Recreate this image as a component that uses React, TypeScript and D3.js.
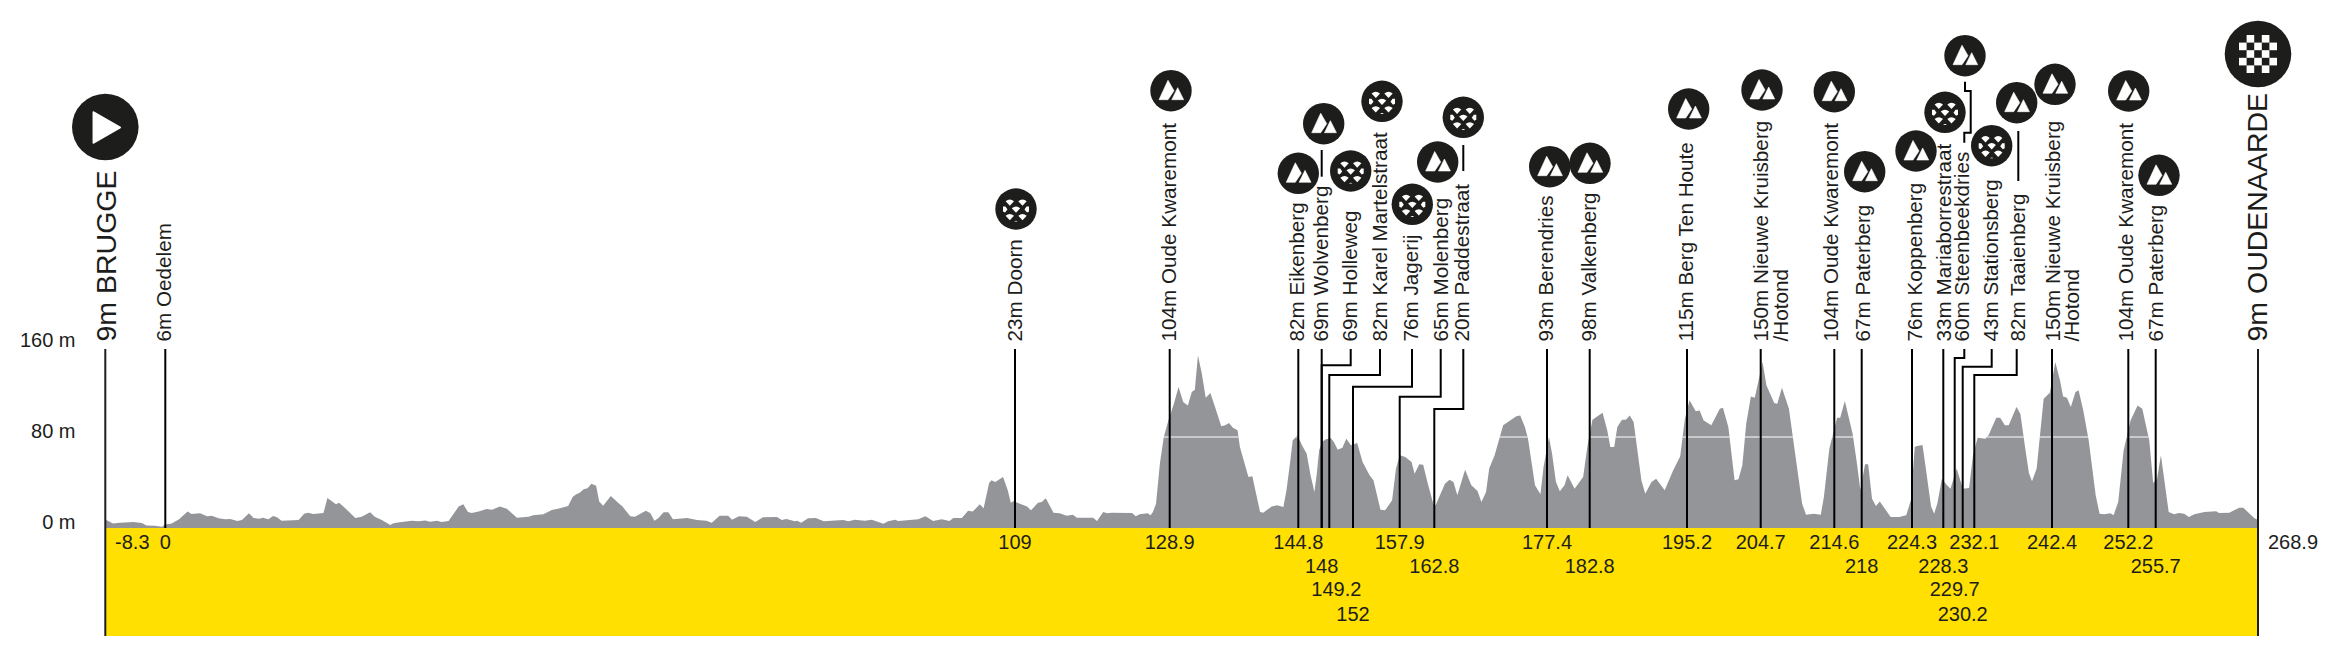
import React from "react";
import * as d3 from "d3";

// ---------- data ----------
const profileOpening: [number, number][] = [
  [-8.3,7],[-8.2,7],[-7.3,4],[-6.4,4.7],[-4.7,5.3],[-3.6,4.4],[-3.0,2.3],[-1.9,2],[-1.0,1.2],[-0.6,3],[0.25,4],[1.2,7.6],[2.3,14.4],[2.8,12.3],[3.9,12.9],[4.8,10.3],[5.4,10.8],[6.3,8.5],[7.1,7.6],[7.8,7.9],[8.7,6.2],[9.3,7],[10.2,12.9],[10.8,8.8],[11.5,8.2],[12.0,9],[12.7,7.6],[13.3,10.5],[13.8,9.4],[14.4,6.4],[16.6,7],[17.3,12.6],[17.8,13.5],[18.5,12.3],[19.8,13.2],[20.3,26.4],[21.4,20.8],[21.8,22.3],[22.6,17.3],[23.9,8.8],[24.7,10],[25.8,13.8],[26.4,10],[27.3,7],[28.4,2.6],[28.8,4.1],[29.6,5],[31.2,6.4],[32.0,5.9],[32.9,6.7],[33.5,5.6],[34.4,6.4],[35.0,5.3],[35.9,6.2],[37.2,18.8],[37.8,20.8],[38.4,14],[38.9,13.2],[39.9,14.7],[40.8,16.7],[41.5,16.1],[42.5,19],
];
const profileFlat: [number, number][] = [
  [43.4,17],[44.7,9],[46.2,10],[46.8,11.1],[48.1,12],[49.2,15.8],[50.0,17],[51.3,19.3],[51.9,27.5],[52.4,29.9],[52.8,31],[53.3,34],[53.8,34.9],[54.3,39],[54.9,37.2],[55.3,23.2],[55.8,19.6],[56.8,28.1],[57.8,21.7],[58.3,18.8],[59.3,10.3],[59.9,10],[61.3,15.2],[61.9,12.9],[62.4,6.4],[62.9,8.5],[63.6,13.8],[64.2,13.8],[64.8,7.6],[66.6,8.8],[67.9,7],[69.1,6.4],[69.8,4.7],[70.8,10.8],[71.9,10.8],[72.4,7.3],[73.3,10.3],[74.3,10],[75.4,5.3],[76.4,9.4],[78.2,9.7],[78.8,7],[79.4,7.9],[80.5,5.9],[80.8,6.4],[81.3,4.7],[82.2,8.5],[83.2,8.8],[84.2,5.9],[86.7,7],[87.4,5.9],[88.2,7.3],[89.5,6.4],[90.4,7.3],[91.9,3.8],[92.5,5.9],[93.4,7.2],[93.8,6.2],[96.4,7.6],[97.3,10.3],[98.3,6.2],[99.4,7.6],[100.4,6.2],[100.9,8.8],[102.0,8.8],[102.8,15.2],[103.4,14.4],[104.3,20.8],[104.8,17.3],[105.5,39.3],[105.8,41.9],[106.3,40.4],[107.3,44.8],[107.9,33.4],[108.3,22.3],[108.7,23.7],[109.3,21.7],[110.4,18.8],[110.9,15.5],[111.8,22.3],[112.3,22.9],[112.8,26.1],[113.8,13.5],[114.6,12.9],[115.5,10.8],[116.3,11.7],[116.8,9.1],[118.9,9.1],[119.4,6.2],[120.2,14],[120.7,12.9],[121.3,13.5],[123.9,13.2],[124.4,10.3],[124.9,12],[125.9,12.9],[126.3,11.1],[126.6,14],
];
const profileHills: [number, number][] = [
  [127,21.4],[127.5,56.6],[128,80],[128.6,94.7],[129.3,109.3],[129.9,124],[130.5,110.8],[131.1,107.8],[131.6,119.6],[132,121.6],[132.4,151.8],[132.9,135.7],[133.4,114.6],[134,118.7],[134.6,106.4],[135.4,89.4],[135.9,90.3],[136.4,92.3],[136.9,88.2],[137.5,85.9],[137.8,71.2],[138.9,44.8],[139.4,45.4],[140.4,14],[140.8,13.5],[141.9,19],[142.6,19.9],[143.4,18.5],[143.8,33.1],[144.3,59.5],[144.6,77],[145.2,81.5],[145.8,72.7],[146.4,65.3],[146.9,46.3],[147.4,31.6],[147.7,47.8],[148,68.3],[148.4,75.6],[148.8,77.7],[149.5,79.1],[149.9,75.6],[150.4,68.9],[151,70.6],[151.5,78.5],[152.1,72.7],[152.9,74.7],[153.6,58],[154.5,46.3],[155,41.9],[155.9,16.1],[156.5,15.5],[157.4,24.3],[157.9,52.2],[158.4,63.9],[159.1,62.4],[159.9,58],[160.3,47.8],[160.9,56],[161.4,55.7],[162,39],[162.7,21.4],[163,19.9],[164.2,39],[164.8,42.5],[165.3,40.4],[165.8,28.7],[166.8,51.3],[167.6,37.5],[168.4,32.5],[168.9,22.9],[169.5,31.6],[169.9,52.2],[170.6,63.9],[171.7,90.3],[173.4,98.2],[173.9,98.8],[174.5,88.8],[174.9,78.5],[175.8,37.5],[176.5,29.6],[176.9,53.6],[177.6,80],[178,65.3],[178.5,40.4],[179,32.2],[179.6,37.5],[180,46.3],[180.9,34.6],[182,44.8],[182.6,74.1],[183.2,95.2],[184.5,101.4],[185.1,85.9],[185.5,71.2],[186,71.2],[186.4,88.8],[187,95.2],[187.5,95.2],[188,99],[188.5,93.2],[189.5,41.9],[190,30.2],[190.8,40.4],[191.4,43.4],[192.5,33.1],[193.6,50.7],[194.5,63],[195.1,96.1],[195.7,112.2],[196.5,102.6],[197,103.2],[197.5,94.7],[198.5,90.3],[199.6,104.9],[200,105.8],[200.7,88.8],[201.5,41.9],[202,42.8],[202.5,55.1],[203,91.7],[203.6,115.7],[204.1,114.6],[204.6,129.8],[205.1,145.9],[205.6,125.4],[206.6,109.9],[207,109.3],[207.6,123.4],[208.5,104.9],[209.3,65.3],[210.2,21.4],[210.7,11.7],[211.7,12.6],[212.6,11.7],[213,27.3],[213.7,69.7],[214.7,97],[215.1,97],[215.7,111.6],[216.7,82.9],[217.2,59.5],[217.7,33.1],[218.3,56],[218.7,56],[219.2,25.8],[219.7,19.3],[220.2,23.2],
];
const profileFinale: [number, number][] = [
  [221.6,9.7],[222.7,9.7],[223.6,11.1],[224.2,24.3],[224.7,71.2],[225,72],[225.7,73],[226.1,53.6],[226.8,19],[227.2,12.6],[227.6,21.4],[228.2,43.4],[228.7,39],[229.3,34.6],[230.1,52.2],[230.3,47.8],[230.9,34.6],[231.7,35.2],[232.2,63.9],[232.8,79.4],[233.8,78.5],[234.2,81.5],[235.2,97],[235.7,97],[236.3,90.3],[236.8,90.3],[237.8,106.4],[238.3,100.5],[238.9,71.2],[239.4,48.4],[239.8,41],[240.4,52.2],[241.3,113.7],[242.1,119],[242.8,145.9],[243.4,129.8],[243.8,115.7],[244.3,114.6],[244.8,106.4],[245.4,119.6],[245.8,121],[246.4,103.4],[247.1,77],[248,28.7],[248.5,12.6],[249.1,12],[249.9,12.9],[250.3,11.1],[250.9,22.9],[251.6,68.3],[252.5,94.7],[253.4,107.8],[254,104.9],[254.9,77],[255.4,39.6],[255.9,43.4],[256.4,63.9],[257.4,14],[258.1,12],[258.7,13.2],[259.4,12.6],[260,9.7],[260.7,12],[262,14],[263.5,14.7],[263.9,13.2],[265.2,13.5],[266.5,17.9],[267,17.9],[268.4,8.8],[268.9,7],
];
const elevationTicks = [0, 80, 160];

const pointNames = ["6m Oedelem","23m Doorn","104m Oude Kwaremont","82m Eikenberg","69m Wolvenberg","69m Holleweg","82m Karel Martelstraat","76m Jagerij","65m Molenberg","20m Paddestraat","93m Berendries","98m Valkenberg","115m Berg Ten Houte","150m Nieuwe Kruisberg","104m Oude Kwaremont","67m Paterberg","76m Koppenberg","33m Mariaborrestraat","60m Steenbeekdries","43m Stationsberg","82m Taaienberg","150m Nieuwe Kruisberg","104m Oude Kwaremont","67m Paterberg"];
const pointKm = [0,109,128.9,144.8,148,148,149.2,152,157.9,162.8,177.4,182.8,195.2,204.7,214.6,218,224.3,228.3,229.7,230.2,232.1,242.4,252.2,255.7];
const pointKind = ["none","cobble","climb","climb","climb","cobble","cobble","cobble","climb","cobble","climb","climb","climb","climb","climb","climb","climb","cobble","climb","cobble","climb","climb","climb","climb"];
const towns = ["9m BRUGGE", "9m OUDENAARDE"];
const townKm = [-8.3, 268.9];
const kmTicks = [-8.3,0,109,128.9,144.8,148,149.2,152,157.9,162.8,177.4,182.8,195.2,204.7,214.6,218,224.3,228.3,229.7,230.2,232.1,242.4,252.2,255.7,268.9];
const kmTickRow = [0,0,0,0,0,1,2,3,0,1,0,1,0,0,0,1,0,1,2,3,0,0,0,1,0];

// ---------- layout ----------
const W = 2333, H = 650;
const BASE = 528, BOTTOM = 636, TOP = 349, LABEL_BOTTOM = 341.5;
const FONT = '"Liberation Sans", Arial, sans-serif';
const INK = "#1d1d1b", GREY = "#939598", YELLOW = "#ffe000";

const y = d3.scaleLinear().domain([0, 80]).range([BASE, BASE - 91]);
const xProfile = d3.scaleLinear().domain([-8.3, 268.9]).range([105.3, 2258]);
// the printed kilometre marks are not quite evenly spaced on the original
const xMark = d3.scaleLinear().domain(kmTicks).range([105.3,165.3,1015,1169.7,1298.3,1321.7,1329.3,1353,1399.7,1434.3,1547,1589.7,1687,1760.7,1834.3,1861.7,1912,1943.3,1954.7,1962.7,1974.3,2052,2128.3,2155.7,2258]);

const labelX = [171,1021.5,1176,1304,1328,1356.7,1387.3,1418,1448.3,1469.3,1553.3,1596,1692.7,1767.7,1838.3,1870,1921.7,1950.7,1969.3,1998.3,2025,2060,2133.3,2163.3];
const iconX = [0,1016,1171,1298.3,1323.7,1350.7,1382,1412.3,1437.7,1463.3,1549.7,1590,1688.7,1762,1834.3,1864.7,1916,1945,1965,1991.7,2016.7,2055,2128.7,2159];
const iconY = [0,209,90.7,173.3,123.7,171,101.3,204.3,162,117.3,166.7,163.3,109,90,91.7,171.7,151,112.3,55.7,145.7,102.7,84.3,91,175.3];
const tickX = [165.3,1015,1169.7,1298.3,1321.7,1350.7,1380,1412,1440.7,1463.3,1547,1589.7,1687,1760.7,1834.3,1861.7,1912,1943.3,1964.3,1991.7,2016.7,2052,2128.3,2155.7];
const elbowY: (number | null)[] = [null,null,null,null,null,365.3,375,386.7,396.7,409,null,null,null,null,null,null,null,null,358,366.7,375,null,null,null];
const secondLine: Record<number, { text: string; x: number }> = {
  13: { text: "/Hotond", x: 1787.7 },
  21: { text: "/Hotond", x: 2079.3 },
};
const leaders: [number, number][][] = [
  [[1321.7,150],[1321.7,176.7]],
  [[1463.3,145],[1463.3,171]],
  [[2018.3,131],[2018.3,181]],
  [[1965,81.7],[1965,91],[1970.7,91],[1970.7,132.7],[1964.3,132.7],[1964.3,142.7]],
];
const kmDx: Record<string, number> = { "-8.3": 27, "149.2": 7, "268.9": 35 };
const rowBaseline = [549.3, 572.5, 595.7, 620.7];

// ---------- marks ----------
const area = d3.area<[number, number]>()
  .x((d) => xProfile(d[0])).y0(y(0)).y1((d) => y(d[1]));
const polyline = d3.line();
const profile = [...profileOpening, ...profileFlat, ...profileHills, ...profileFinale];
const profilePath = area(profile) as string;

function Climb({ x, y: cy }: { x: number; y: number }) {
  return (
    <g transform={`translate(${x},${cy})`}>
      <circle r={20.7} fill={INK} />
      <path d="M-12,9 L-3,-10.5 L3,0 L-3,9 Z M0.8,9 L6.7,-3 L12.7,9 Z" fill="#fff" stroke="#fff" strokeWidth={0.6} strokeLinejoin="round" />
    </g>
  );
}

const scallop = "M-4.2,-1.2 Q0,-5 4.2,-1.2 L0,3.2 Z";
const cobbleSpots = [[-6.2,-6.5],[6.5,-6.5],[0,0.5],[-6.2,8],[6.5,8]];
function Cobble({ x, y: cy }: { x: number; y: number }) {
  return (
    <g transform={`translate(${x},${cy})`}>
      <circle r={20.7} fill={INK} />
      {cobbleSpots.map(([dx, dy], i) => (
        <path key={i} d={scallop} transform={`translate(${dx},${dy})`} fill="#fff" />
      ))}
      <path d="M-13,-2.5 L-10.5,-2.5 L-8.5,0.5 L-11,3.5 L-13,2.5 Z M13,-2.5 L10.5,-2.5 L8.5,0.5 L11,3.5 L13,2.5 Z M-1.8,12.6 Q0,11 1.8,12.6 Z" fill="#fff" />
    </g>
  );
}

function Finish({ x, y: cy }: { x: number; y: number }) {
  const cell = 7.6;
  const cells = d3.range(25).map((i) => [i % 5, Math.floor(i / 5)]).filter(([c, r]) => (c + r) % 2 === 1);
  return (
    <g transform={`translate(${x},${cy})`}>
      <circle r={33.3} fill={INK} />
      {cells.map(([c, r], i) => (
        <rect key={i} x={(c - 2.5) * cell} y={(r - 2.5) * cell} width={cell} height={cell} fill="#fff" />
      ))}
    </g>
  );
}

function Start({ x, y: cy }: { x: number; y: number }) {
  return (
    <g transform={`translate(${x},${cy})`}>
      <circle r={33.3} fill={INK} />
      <path d="M-12,-15 L15,0.5 L-12,16 Z" fill="#fff" stroke="#fff" strokeWidth={1.5} strokeLinejoin="round" />
    </g>
  );
}

function Vertical({ x, size, text }: { x: number; size: number; text: string }) {
  return (
    <text transform={`translate(${x},${LABEL_BOTTOM}) rotate(-90)`} fontSize={size} fill={INK}>
      {text}
    </text>
  );
}

export default function App() {
  return (
    <svg width={W} height={H} viewBox={`0 0 ${W} ${H}`} fontFamily={FONT}
      style={{ position: "absolute", left: 0, top: 0, background: "#fff" }}>
      <defs>
        <clipPath id="profile-clip"><path d={profilePath} /></clipPath>
      </defs>

      <path d={profilePath} fill={GREY} />
      <line x1={xProfile(-8.3)} x2={xProfile(268.9)} y1={y(80)} y2={y(80)} stroke="#fff" strokeWidth={1.2} clipPath="url(#profile-clip)" />
      <rect x={xProfile(-8.3)} y={BASE} width={xProfile(268.9) - xProfile(-8.3)} height={BOTTOM - BASE} fill={YELLOW} />

      {elevationTicks.map((t) => (
        <text key={t} x={75.5} y={y(t) + 1} textAnchor="end" fontSize={20} fill={INK}>{t} m</text>
      ))}

      {townKm.map((km) => (
        <line key={km} x1={xMark(km)} x2={xMark(km)} y1={TOP} y2={BOTTOM} stroke={INK} strokeWidth={2} />
      ))}
      <Vertical x={116} size={28.5} text={towns[0]} />
      <Vertical x={2267} size={28.5} text={towns[1]} />
      <Start x={xMark(-8.3)} y={127} />
      <Finish x={xMark(268.9)} y={54} />

      {pointKm.map((km, i) => {
        const foot = xMark(km);
        const e = elbowY[i];
        const pts: [number, number][] = e === null
          ? [[foot, TOP], [foot, BASE]]
          : [[tickX[i], TOP], [tickX[i], e], [foot, e], [foot, BASE]];
        return <path key={i} d={polyline(pts) as string} fill="none" stroke="#000" strokeWidth={2} />;
      })}
      {leaders.map((pts, i) => (
        <path key={i} d={polyline(pts) as string} fill="none" stroke="#000" strokeWidth={2} />
      ))}

      {pointNames.map((name, i) => (
        <Vertical key={i} x={labelX[i]} size={20.7} text={name} />
      ))}
      {Object.entries(secondLine).map(([k, v]) => (
        <Vertical key={k} x={v.x} size={20.7} text={v.text} />
      ))}

      {pointKind.map((kind, i) =>
        kind === "climb" ? <Climb key={i} x={iconX[i]} y={iconY[i]} />
        : kind === "cobble" ? <Cobble key={i} x={iconX[i]} y={iconY[i]} />
        : null
      )}

      {kmTicks.map((km, i) => (
        <text key={km} x={xMark(km) + (kmDx[String(km)] ?? 0)} y={rowBaseline[kmTickRow[i]]} textAnchor="middle" fontSize={20} fill={INK}>
          {km}
        </text>
      ))}
    </svg>
  );
}
